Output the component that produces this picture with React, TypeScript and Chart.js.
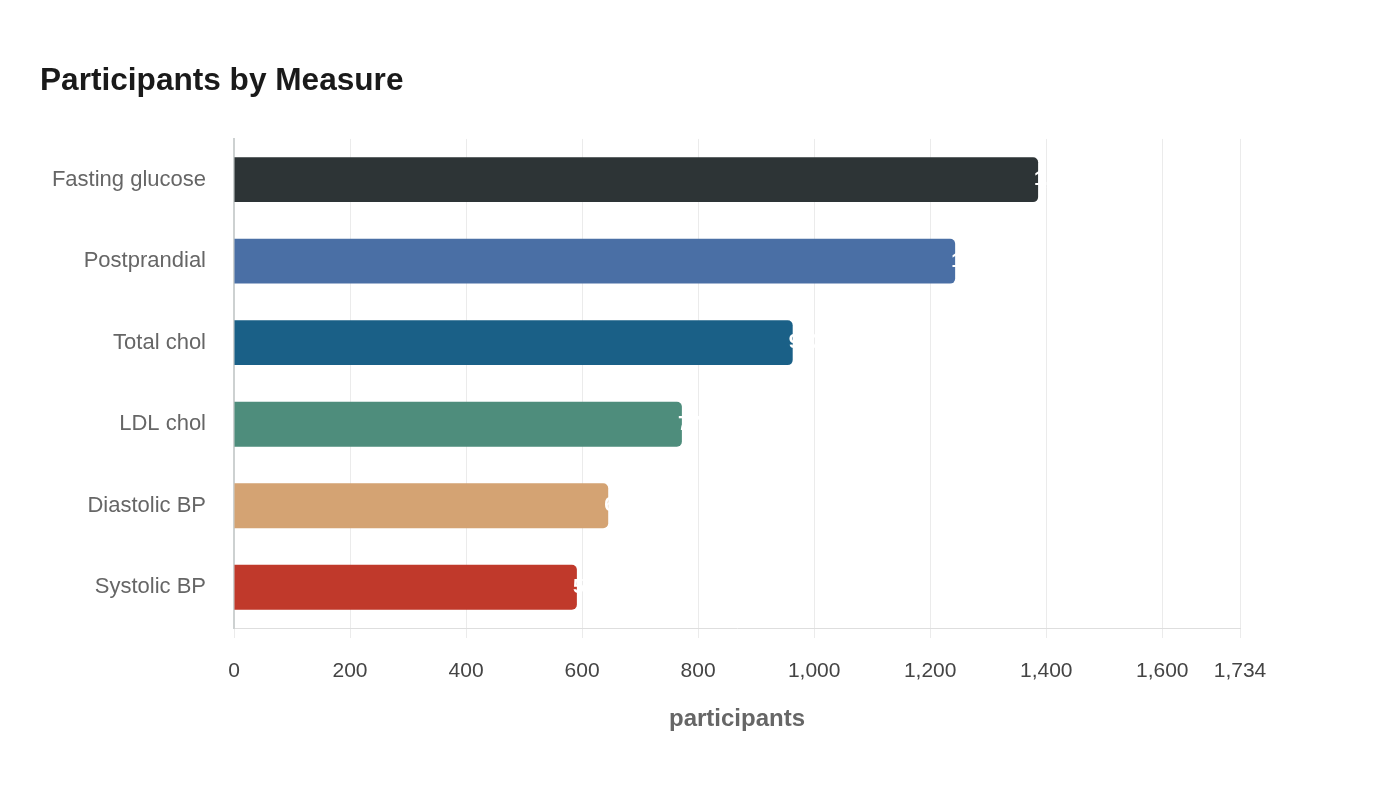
import { useEffect, useRef } from "react";
import { Chart, registerables } from "chart.js";

Chart.register(...registerables);

const FONT = "'Liberation Sans', Arial, sans-serif";

const measures = [
  "Fasting glucose",
  "Postprandial",
  "Total chol",
  "LDL chol",
  "Diastolic BP",
  "Systolic BP",
];
const participants = [1386, 1243, 963, 772, 645, 591];
const barColors = ["#2d3436", "#4a6fa5", "#1a6087", "#4e8d7c", "#d4a373", "#c0392b"];
const xTickValues = [0, 200, 400, 600, 800, 1000, 1200, 1400, 1600, 1734];
const xMax = 1734;

// white value text sitting at the end of each bar
const valueLabels = {
  id: "valueLabels",
  afterDatasetsDraw(chart: any) {
    const { ctx } = chart;
    const meta = chart.getDatasetMeta(0);
    ctx.save();
    ctx.font = `bold 20px ${FONT}`;
    ctx.fillStyle = "#ffffff";
    ctx.textAlign = "left";
    ctx.textBaseline = "middle";
    meta.data.forEach((bar: any, i: number) => {
      ctx.fillText(participants[i].toLocaleString("en-US"), bar.x - 4, bar.y);
    });
    ctx.restore();
  },
};

function MeasureChart() {
  const canvasRef = useRef<HTMLCanvasElement | null>(null);
  const chartRef = useRef<Chart<"bar", number[], string> | null>(null);

  useEffect(() => {
    if (!canvasRef.current) return;
    const ctx = canvasRef.current.getContext("2d");
    if (!ctx) return;

    if (chartRef.current) chartRef.current.destroy();

    chartRef.current = new Chart(ctx, {
      type: "bar",
      data: {
        labels: measures,
        datasets: [
          {
            data: participants,
            backgroundColor: barColors,
            borderRadius: 5,
            borderSkipped: "start",
            barPercentage: 0.55,
            categoryPercentage: 1,
          },
        ],
      },
      options: {
        indexAxis: "y",
        animation: false,
        responsive: true,
        maintainAspectRatio: false,
        layout: { padding: { left: 32, right: 152, top: 54, bottom: 54 } },
        plugins: {
          legend: { display: false },
          tooltip: { enabled: false },
          title: {
            display: true,
            text: "Participants by Measure",
            align: "start",
            color: "#1a1a1a",
            font: { size: 31.6, weight: "bold", family: FONT },
            padding: { top: 0, bottom: 39 },
          },
        },
        scales: {
          x: {
            min: 0,
            max: xMax,
            afterBuildTicks: (scale: any) => {
              scale.ticks = xTickValues.map((v) => ({ value: v }));
            },
            grid: { color: "#ebebeb", lineWidth: 1, tickLength: 10 },
            border: { color: "#dedede", width: 1 },
            ticks: {
              color: "#444444",
              padding: 21,
              autoSkip: false,
              maxRotation: 0,
              font: { size: 21, family: FONT },
              callback: (v: any) => Number(v).toLocaleString("en-US"),
            },
            title: {
              display: true,
              text: "participants",
              color: "#666666",
              font: { size: 24, weight: "bold", family: FONT },
              padding: { top: 0, bottom: 4 },
            },
          },
          y: {
            grid: { display: false, drawTicks: false },
            border: { color: "#cdd1d1", width: 2 },
            ticks: {
              color: "#666666",
              padding: 28,
              font: { size: 22, family: FONT },
            },
            afterFit: (scale: any) => {
              scale.width = 194;
            },
          },
        },
      },
      plugins: [valueLabels],
    });

    return () => {
      if (chartRef.current) {
        chartRef.current.destroy();
        chartRef.current = null;
      }
    };
  }, []);

  return (
    <div style={{ position: "relative", width: "100%", height: 784 }}>
      <canvas ref={canvasRef} />
    </div>
  );
}

export default function App() {
  return <MeasureChart />;
}
